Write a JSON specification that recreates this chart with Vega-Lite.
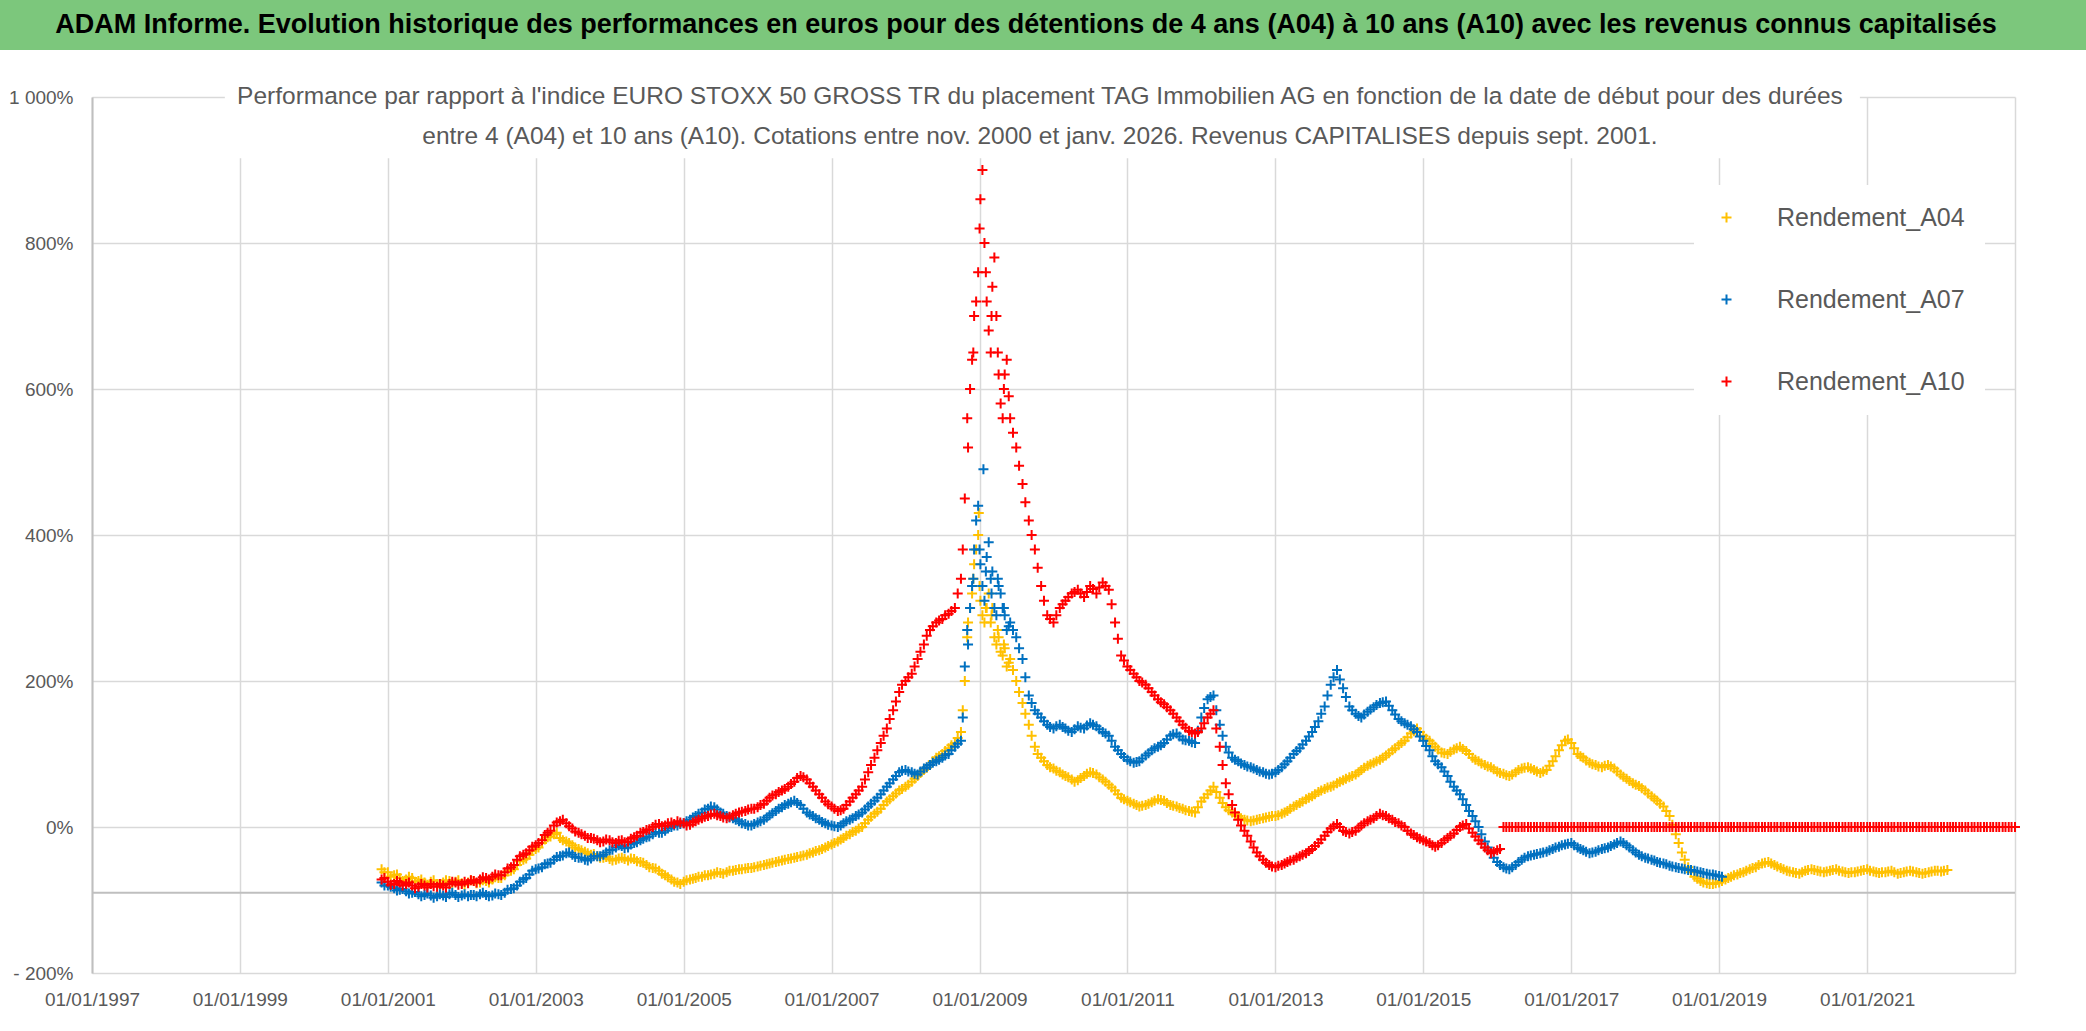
{
  "$schema": "https://vega.github.io/schema/vega-lite/v6.json",
  "width": 1923,
  "height": 876,
  "autosize": {"type": "none"},
  "padding": {"left": 92, "top": 97, "right": 71, "bottom": 58},
  "background": "white",
  "config": {"view": {"stroke": null}, "font": "Liberation Sans"},
  "datasets": {
    "perf": [
      {"d":"2000-12","A04":-58,"A07":-76,"A10":-72},
      {"d":"2000-12-15","A04":-62,"A07":-80,"A10":-70},
      {"d":"2001-01","A04":-62,"A07":-80,"A10":-75},
      {"d":"2001-01-15","A04":-68,"A07":-82,"A10":-79},
      {"d":"2001-02","A04":-66,"A07":-84,"A10":-78},
      {"d":"2001-02-15","A04":-65,"A07":-87,"A10":-74},
      {"d":"2001-03","A04":-70,"A07":-86,"A10":-76},
      {"d":"2001-03-15","A04":-74,"A07":-85,"A10":-80},
      {"d":"2001-04","A04":-72,"A07":-88,"A10":-78},
      {"d":"2001-04-15","A04":-68,"A07":-91,"A10":-76},
      {"d":"2001-05","A04":-70,"A07":-90,"A10":-80},
      {"d":"2001-05-15","A04":-75,"A07":-89,"A10":-84},
      {"d":"2001-06","A04":-74,"A07":-92,"A10":-82},
      {"d":"2001-06-15","A04":-72,"A07":-95,"A10":-78},
      {"d":"2001-07","A04":-76,"A07":-93,"A10":-80},
      {"d":"2001-07-15","A04":-79,"A07":-91,"A10":-83},
      {"d":"2001-08","A04":-75,"A07":-94,"A10":-78},
      {"d":"2001-08-15","A04":-73,"A07":-97,"A10":-81},
      {"d":"2001-09","A04":-78,"A07":-95,"A10":-82},
      {"d":"2001-09-15","A04":-80,"A07":-92,"A10":-78},
      {"d":"2001-10","A04":-76,"A07":-94,"A10":-80},
      {"d":"2001-10-15","A04":-73,"A07":-96,"A10":-83},
      {"d":"2001-11","A04":-74,"A07":-92,"A10":-78},
      {"d":"2001-11-15","A04":-77,"A07":-90,"A10":-75},
      {"d":"2001-12","A04":-75,"A07":-93,"A10":-76},
      {"d":"2001-12-15","A04":-73,"A07":-96,"A10":-79},
      {"d":"2002-01","A04":-77,"A07":-94,"A10":-78},
      {"d":"2002-01-15","A04":-79,"A07":-92,"A10":-75},
      {"d":"2002-02","A04":-76,"A07":-95,"A10":-77},
      {"d":"2002-02-15","A04":-73,"A07":-93,"A10":-73},
      {"d":"2002-03","A04":-74,"A07":-93,"A10":-74},
      {"d":"2002-03-15","A04":-77,"A07":-95,"A10":-76},
      {"d":"2002-04","A04":-76,"A07":-92,"A10":-72},
      {"d":"2002-04-15","A04":-73,"A07":-90,"A10":-69},
      {"d":"2002-05","A04":-74,"A07":-93,"A10":-70},
      {"d":"2002-05-15","A04":-76,"A07":-95,"A10":-72},
      {"d":"2002-06","A04":-72,"A07":-94,"A10":-68},
      {"d":"2002-06-15","A04":-69,"A07":-91,"A10":-65},
      {"d":"2002-07","A04":-70,"A07":-92,"A10":-66},
      {"d":"2002-07-15","A04":-70,"A07":-93,"A10":-66},
      {"d":"2002-08","A04":-66,"A07":-90,"A10":-62},
      {"d":"2002-08-15","A04":-61,"A07":-86,"A10":-57},
      {"d":"2002-09","A04":-60,"A07":-85,"A10":-55},
      {"d":"2002-09-15","A04":-58,"A07":-84,"A10":-52},
      {"d":"2002-10","A04":-52,"A07":-80,"A10":-45},
      {"d":"2002-10-15","A04":-47,"A07":-75,"A10":-40},
      {"d":"2002-11","A04":-45,"A07":-72,"A10":-38},
      {"d":"2002-11-15","A04":-43,"A07":-70,"A10":-36},
      {"d":"2002-12","A04":-38,"A07":-65,"A10":-32},
      {"d":"2002-12-15","A04":-33,"A07":-60,"A10":-27},
      {"d":"2003-01","A04":-30,"A07":-58,"A10":-25},
      {"d":"2003-01-15","A04":-28,"A07":-57,"A10":-22},
      {"d":"2003-02","A04":-22,"A07":-55,"A10":-18},
      {"d":"2003-02-15","A04":-17,"A07":-51,"A10":-11},
      {"d":"2003-03","A04":-14,"A07":-50,"A10":-8},
      {"d":"2003-03-15","A04":-13,"A07":-49,"A10":-5},
      {"d":"2003-04","A04":-10,"A07":-45,"A10":2},
      {"d":"2003-04-15","A04":-8,"A07":-41,"A10":6},
      {"d":"2003-05","A04":-15,"A07":-40,"A10":8},
      {"d":"2003-05-15","A04":-18,"A07":-39,"A10":10},
      {"d":"2003-06","A04":-20,"A07":-36,"A10":5},
      {"d":"2003-06-15","A04":-22,"A07":-35,"A10":1},
      {"d":"2003-07","A04":-25,"A07":-38,"A10":-2},
      {"d":"2003-07-15","A04":-28,"A07":-41,"A10":-6},
      {"d":"2003-08","A04":-30,"A07":-42,"A10":-8},
      {"d":"2003-08-15","A04":-32,"A07":-42,"A10":-10},
      {"d":"2003-09","A04":-34,"A07":-45,"A10":-12},
      {"d":"2003-09-15","A04":-36,"A07":-46,"A10":-15},
      {"d":"2003-10","A04":-38,"A07":-43,"A10":-15},
      {"d":"2003-10-15","A04":-37,"A07":-40,"A10":-16},
      {"d":"2003-11","A04":-40,"A07":-40,"A10":-18},
      {"d":"2003-11-15","A04":-42,"A07":-40,"A10":-21},
      {"d":"2003-12","A04":-42,"A07":-38,"A10":-20},
      {"d":"2003-12-15","A04":-41,"A07":-35,"A10":-17},
      {"d":"2004-01","A04":-44,"A07":-32,"A10":-18},
      {"d":"2004-01-15","A04":-46,"A07":-31,"A10":-21},
      {"d":"2004-02","A04":-45,"A07":-28,"A10":-22},
      {"d":"2004-02-15","A04":-43,"A07":-25,"A10":-19},
      {"d":"2004-03","A04":-42,"A07":-26,"A10":-18},
      {"d":"2004-03-15","A04":-44,"A07":-29,"A10":-21},
      {"d":"2004-04","A04":-46,"A07":-28,"A10":-20},
      {"d":"2004-04-15","A04":-43,"A07":-24,"A10":-16},
      {"d":"2004-05","A04":-44,"A07":-22,"A10":-14},
      {"d":"2004-05-15","A04":-47,"A07":-21,"A10":-12},
      {"d":"2004-06","A04":-48,"A07":-18,"A10":-8},
      {"d":"2004-06-15","A04":-49,"A07":-16,"A10":-7},
      {"d":"2004-07","A04":-52,"A07":-14,"A10":-4},
      {"d":"2004-07-15","A04":-55,"A07":-13,"A10":-3},
      {"d":"2004-08","A04":-56,"A07":-10,"A10":0},
      {"d":"2004-08-15","A04":-57,"A07":-7,"A10":3},
      {"d":"2004-09","A04":-60,"A07":-8,"A10":4},
      {"d":"2004-09-15","A04":-64,"A07":-8,"A10":1},
      {"d":"2004-10","A04":-66,"A07":-5,"A10":2},
      {"d":"2004-10-15","A04":-69,"A07":-2,"A10":5},
      {"d":"2004-11","A04":-72,"A07":0,"A10":6},
      {"d":"2004-11-15","A04":-75,"A07":2,"A10":4},
      {"d":"2004-12","A04":-76,"A07":2,"A10":8},
      {"d":"2004-12-15","A04":-78,"A07":4,"A10":6},
      {"d":"2005-01","A04":-75,"A07":5,"A10":5},
      {"d":"2005-01-15","A04":-73,"A07":8,"A10":2},
      {"d":"2005-02","A04":-72,"A07":10,"A10":3},
      {"d":"2005-02-15","A04":-71,"A07":13,"A10":6},
      {"d":"2005-03","A04":-70,"A07":15,"A10":8},
      {"d":"2005-03-15","A04":-68,"A07":18,"A10":10},
      {"d":"2005-04","A04":-68,"A07":20,"A10":12},
      {"d":"2005-04-15","A04":-66,"A07":24,"A10":14},
      {"d":"2005-05","A04":-66,"A07":25,"A10":15},
      {"d":"2005-05-15","A04":-65,"A07":28,"A10":17},
      {"d":"2005-06","A04":-64,"A07":27,"A10":18},
      {"d":"2005-06-15","A04":-62,"A07":24,"A10":16},
      {"d":"2005-07","A04":-63,"A07":20,"A10":15},
      {"d":"2005-07-15","A04":-64,"A07":18,"A10":13},
      {"d":"2005-08","A04":-62,"A07":15,"A10":12},
      {"d":"2005-08-15","A04":-60,"A07":13,"A10":14},
      {"d":"2005-09","A04":-60,"A07":12,"A10":16},
      {"d":"2005-09-15","A04":-59,"A07":10,"A10":18},
      {"d":"2005-10","A04":-58,"A07":8,"A10":20},
      {"d":"2005-10-15","A04":-58,"A07":5,"A10":21},
      {"d":"2005-11","A04":-57,"A07":4,"A10":22},
      {"d":"2005-11-15","A04":-56,"A07":2,"A10":24},
      {"d":"2005-12","A04":-56,"A07":2,"A10":25},
      {"d":"2005-12-15","A04":-55,"A07":4,"A10":25},
      {"d":"2006-01","A04":-54,"A07":6,"A10":27},
      {"d":"2006-01-15","A04":-53,"A07":8,"A10":30},
      {"d":"2006-02","A04":-52,"A07":10,"A10":32},
      {"d":"2006-02-15","A04":-51,"A07":13,"A10":36},
      {"d":"2006-03","A04":-50,"A07":16,"A10":40},
      {"d":"2006-03-15","A04":-49,"A07":19,"A10":43},
      {"d":"2006-04","A04":-48,"A07":22,"A10":45},
      {"d":"2006-04-15","A04":-47,"A07":25,"A10":48},
      {"d":"2006-05","A04":-46,"A07":27,"A10":50},
      {"d":"2006-05-15","A04":-45,"A07":30,"A10":52},
      {"d":"2006-06","A04":-44,"A07":32,"A10":55},
      {"d":"2006-06-15","A04":-43,"A07":34,"A10":59},
      {"d":"2006-07","A04":-42,"A07":36,"A10":62},
      {"d":"2006-07-15","A04":-41,"A07":33,"A10":67},
      {"d":"2006-08","A04":-40,"A07":30,"A10":70},
      {"d":"2006-08-15","A04":-39,"A07":25,"A10":68},
      {"d":"2006-09","A04":-38,"A07":20,"A10":65},
      {"d":"2006-09-15","A04":-36,"A07":17,"A10":60},
      {"d":"2006-10","A04":-35,"A07":15,"A10":55},
      {"d":"2006-10-15","A04":-33,"A07":12,"A10":50},
      {"d":"2006-11","A04":-32,"A07":10,"A10":45},
      {"d":"2006-11-15","A04":-30,"A07":7,"A10":40},
      {"d":"2006-12","A04":-28,"A07":5,"A10":35},
      {"d":"2006-12-15","A04":-26,"A07":3,"A10":31},
      {"d":"2007-01","A04":-24,"A07":2,"A10":28},
      {"d":"2007-01-15","A04":-22,"A07":1,"A10":25},
      {"d":"2007-02","A04":-20,"A07":0,"A10":22},
      {"d":"2007-02-15","A04":-17,"A07":2,"A10":23},
      {"d":"2007-03","A04":-15,"A07":5,"A10":25},
      {"d":"2007-03-15","A04":-12,"A07":8,"A10":30},
      {"d":"2007-04","A04":-10,"A07":10,"A10":35},
      {"d":"2007-04-15","A04":-7,"A07":12,"A10":40},
      {"d":"2007-05","A04":-5,"A07":15,"A10":45},
      {"d":"2007-05-15","A04":-2,"A07":17,"A10":50},
      {"d":"2007-06","A04":0,"A07":20,"A10":55},
      {"d":"2007-06-15","A04":5,"A07":24,"A10":65},
      {"d":"2007-07","A04":10,"A07":28,"A10":75},
      {"d":"2007-07-15","A04":14,"A07":32,"A10":85},
      {"d":"2007-08","A04":18,"A07":36,"A10":95},
      {"d":"2007-08-15","A04":21,"A07":40,"A10":105},
      {"d":"2007-09","A04":25,"A07":45,"A10":115},
      {"d":"2007-09-15","A04":30,"A07":50,"A10":125},
      {"d":"2007-10","A04":35,"A07":55,"A10":135},
      {"d":"2007-10-15","A04":38,"A07":60,"A10":148},
      {"d":"2007-11","A04":42,"A07":65,"A10":160},
      {"d":"2007-11-15","A04":46,"A07":70,"A10":172},
      {"d":"2007-12","A04":50,"A07":75,"A10":185},
      {"d":"2007-12-15","A04":52,"A07":77,"A10":195},
      {"d":"2008-01","A04":55,"A07":78,"A10":200},
      {"d":"2008-01-15","A04":58,"A07":76,"A10":205},
      {"d":"2008-02","A04":62,"A07":75,"A10":210},
      {"d":"2008-02-15","A04":66,"A07":73,"A10":220},
      {"d":"2008-03","A04":70,"A07":72,"A10":230},
      {"d":"2008-03-15","A04":74,"A07":76,"A10":240},
      {"d":"2008-04","A04":78,"A07":80,"A10":250},
      {"d":"2008-04-15","A04":81,"A07":82,"A10":262},
      {"d":"2008-05","A04":85,"A07":85,"A10":270},
      {"d":"2008-05-15","A04":90,"A07":88,"A10":275},
      {"d":"2008-06","A04":95,"A07":90,"A10":280},
      {"d":"2008-06-15","A04":97,"A07":92,"A10":283},
      {"d":"2008-07","A04":100,"A07":95,"A10":285},
      {"d":"2008-07-15","A04":104,"A07":98,"A10":290},
      {"d":"2008-08","A04":108,"A07":100,"A10":292},
      {"d":"2008-08-15","A04":112,"A07":105,"A10":296},
      {"d":"2008-09","A04":115,"A07":110,"A10":300},
      {"d":"2008-09-15","A04":122,"A07":114,"A10":320},
      {"d":"2008-10","A04":130,"A07":118,"A10":340},
      {"d":"2008-10-10","A04":160,"A07":150,"A10":380},
      {"d":"2008-10-20","A04":200,"A07":220,"A10":450},
      {"d":"2008-11","A04":260,"A07":270,"A10":560},
      {"d":"2008-11-05","A04":280,"A07":250,"A10":520},
      {"d":"2008-11-15","A04":300,"A07":300,"A10":600},
      {"d":"2008-11-25","A04":320,"A07":330,"A10":640},
      {"d":"2008-12","A04":340,"A07":340,"A10":650},
      {"d":"2008-12-05","A04":360,"A07":380,"A10":700},
      {"d":"2008-12-15","A04":380,"A07":420,"A10":720},
      {"d":"2008-12-25","A04":400,"A07":440,"A10":760},
      {"d":"2008-12-28","A04":430},
      {"d":"2009-01","A04":330,"A07":380,"A10":820},
      {"d":"2009-01-05","A04":310,"A07":360,"A10":860},
      {"d":"2009-01-15","A04":290,"A07":330,"A10":900},
      {"d":"2009-01-20","A07":490},
      {"d":"2009-01-25","A04":280,"A07":310,"A10":800},
      {"d":"2009-02","A04":300,"A07":350,"A10":760},
      {"d":"2009-02-05","A04":300,"A07":370,"A10":720},
      {"d":"2009-02-15","A04":320,"A07":390,"A10":680},
      {"d":"2009-02-25","A04":280,"A07":340,"A10":650},
      {"d":"2009-03","A04":290,"A07":320,"A10":700},
      {"d":"2009-03-05","A04":300,"A07":350,"A10":740},
      {"d":"2009-03-15","A04":260,"A07":300,"A10":780},
      {"d":"2009-03-25","A04":250,"A07":290,"A10":700},
      {"d":"2009-04","A04":270,"A07":340,"A10":650},
      {"d":"2009-04-05","A04":260,"A07":330,"A10":620},
      {"d":"2009-04-15","A04":240,"A07":320,"A10":580},
      {"d":"2009-04-25","A04":235,"A07":300,"A10":560},
      {"d":"2009-05","A04":250,"A07":300,"A10":600},
      {"d":"2009-05-05","A04":245,"A07":290,"A10":620},
      {"d":"2009-05-15","A04":220,"A07":270,"A10":640},
      {"d":"2009-05-25","A04":225,"A07":275,"A10":590},
      {"d":"2009-06","A04":230,"A07":280,"A10":560},
      {"d":"2009-06-15","A04":215,"A07":270,"A10":540},
      {"d":"2009-07","A04":200,"A07":260,"A10":520},
      {"d":"2009-07-15","A04":185,"A07":245,"A10":495},
      {"d":"2009-08","A04":170,"A07":230,"A10":470},
      {"d":"2009-08-15","A04":155,"A07":205,"A10":445},
      {"d":"2009-09","A04":140,"A07":180,"A10":420},
      {"d":"2009-09-15","A04":125,"A07":170,"A10":400},
      {"d":"2009-10","A04":110,"A07":160,"A10":380},
      {"d":"2009-10-15","A04":100,"A07":155,"A10":355},
      {"d":"2009-11","A04":95,"A07":150,"A10":330},
      {"d":"2009-11-15","A04":90,"A07":145,"A10":310},
      {"d":"2009-12","A04":85,"A07":140,"A10":290},
      {"d":"2009-12-15","A04":82,"A07":137,"A10":285},
      {"d":"2010-01","A04":80,"A07":135,"A10":280},
      {"d":"2010-01-15","A04":77,"A07":138,"A10":290},
      {"d":"2010-02","A04":75,"A07":140,"A10":300},
      {"d":"2010-02-15","A04":72,"A07":137,"A10":305},
      {"d":"2010-03","A04":70,"A07":135,"A10":310},
      {"d":"2010-03-15","A04":68,"A07":132,"A10":315},
      {"d":"2010-04","A04":65,"A07":130,"A10":320},
      {"d":"2010-04-15","A04":62,"A07":134,"A10":322},
      {"d":"2010-05","A04":64,"A07":138,"A10":325},
      {"d":"2010-05-15","A04":67,"A07":136,"A10":320},
      {"d":"2010-06","A04":70,"A07":135,"A10":315},
      {"d":"2010-06-15","A04":73,"A07":139,"A10":322},
      {"d":"2010-07","A04":75,"A07":142,"A10":330},
      {"d":"2010-07-15","A04":74,"A07":140,"A10":326},
      {"d":"2010-08","A04":72,"A07":138,"A10":320},
      {"d":"2010-08-15","A04":68,"A07":134,"A10":328},
      {"d":"2010-09","A04":65,"A07":130,"A10":335},
      {"d":"2010-09-15","A04":62,"A07":128,"A10":330},
      {"d":"2010-10","A04":58,"A07":125,"A10":325},
      {"d":"2010-10-15","A04":54,"A07":118,"A10":305},
      {"d":"2010-11","A04":50,"A07":110,"A10":280},
      {"d":"2010-11-15","A04":45,"A07":105,"A10":258},
      {"d":"2010-12","A04":40,"A07":100,"A10":235},
      {"d":"2010-12-15","A04":38,"A07":96,"A10":228},
      {"d":"2011-01","A04":36,"A07":92,"A10":220},
      {"d":"2011-01-15","A04":34,"A07":90,"A10":215},
      {"d":"2011-02","A04":32,"A07":88,"A10":210},
      {"d":"2011-02-15","A04":30,"A07":89,"A10":205},
      {"d":"2011-03","A04":28,"A07":90,"A10":200},
      {"d":"2011-03-15","A04":29,"A07":94,"A10":198},
      {"d":"2011-04","A04":30,"A07":98,"A10":195},
      {"d":"2011-04-15","A04":32,"A07":101,"A10":190},
      {"d":"2011-05","A04":34,"A07":105,"A10":185},
      {"d":"2011-05-15","A04":36,"A07":108,"A10":180},
      {"d":"2011-06","A04":38,"A07":110,"A10":175},
      {"d":"2011-06-15","A04":37,"A07":112,"A10":171},
      {"d":"2011-07","A04":36,"A07":115,"A10":168},
      {"d":"2011-07-15","A04":33,"A07":120,"A10":164},
      {"d":"2011-08","A04":30,"A07":125,"A10":160},
      {"d":"2011-08-15","A04":29,"A07":127,"A10":155},
      {"d":"2011-09","A04":28,"A07":128,"A10":150},
      {"d":"2011-09-15","A04":26,"A07":124,"A10":145},
      {"d":"2011-10","A04":25,"A07":120,"A10":140},
      {"d":"2011-10-15","A04":23,"A07":119,"A10":136},
      {"d":"2011-11","A04":22,"A07":118,"A10":132},
      {"d":"2011-11-15","A04":21,"A07":116,"A10":130},
      {"d":"2011-12","A04":20,"A07":115,"A10":128},
      {"d":"2011-12-15","A04":27,"A07":132,"A10":130},
      {"d":"2012-01","A04":35,"A07":150,"A10":135},
      {"d":"2012-01-15","A04":40,"A07":163,"A10":142},
      {"d":"2012-02","A04":45,"A07":175,"A10":150},
      {"d":"2012-02-15","A04":50,"A07":178,"A10":155},
      {"d":"2012-03","A04":55,"A07":180,"A10":160},
      {"d":"2012-03-15","A04":48,"A07":160,"A10":135},
      {"d":"2012-04","A04":40,"A07":140,"A10":110},
      {"d":"2012-04-15","A04":33,"A07":125,"A10":85},
      {"d":"2012-05","A04":27,"A07":110,"A10":60},
      {"d":"2012-05-15","A04":23,"A07":102,"A10":45},
      {"d":"2012-06","A04":20,"A07":95,"A10":30},
      {"d":"2012-06-15","A04":17,"A07":92,"A10":20},
      {"d":"2012-07","A04":15,"A07":90,"A10":10},
      {"d":"2012-07-15","A04":12,"A07":87,"A10":2},
      {"d":"2012-08","A04":10,"A07":85,"A10":-5},
      {"d":"2012-08-15","A04":9,"A07":83,"A10":-12},
      {"d":"2012-09","A04":8,"A07":82,"A10":-20},
      {"d":"2012-09-15","A04":9,"A07":80,"A10":-28},
      {"d":"2012-10","A04":10,"A07":78,"A10":-35},
      {"d":"2012-10-15","A04":11,"A07":76,"A10":-40},
      {"d":"2012-11","A04":12,"A07":75,"A10":-45},
      {"d":"2012-11-15","A04":13,"A07":73,"A10":-49},
      {"d":"2012-12","A04":14,"A07":72,"A10":-52},
      {"d":"2012-12-15","A04":15,"A07":73,"A10":-54},
      {"d":"2013-01","A04":15,"A07":75,"A10":-55},
      {"d":"2013-01-15","A04":16,"A07":78,"A10":-53},
      {"d":"2013-02","A04":18,"A07":82,"A10":-52},
      {"d":"2013-02-15","A04":20,"A07":86,"A10":-50},
      {"d":"2013-03","A04":22,"A07":90,"A10":-48},
      {"d":"2013-03-15","A04":25,"A07":95,"A10":-46},
      {"d":"2013-04","A04":28,"A07":100,"A10":-45},
      {"d":"2013-04-15","A04":30,"A07":104,"A10":-42},
      {"d":"2013-05","A04":33,"A07":108,"A10":-40},
      {"d":"2013-05-15","A04":35,"A07":113,"A10":-38},
      {"d":"2013-06","A04":38,"A07":118,"A10":-36},
      {"d":"2013-06-15","A04":40,"A07":124,"A10":-33},
      {"d":"2013-07","A04":42,"A07":130,"A10":-30},
      {"d":"2013-07-15","A04":45,"A07":137,"A10":-26},
      {"d":"2013-08","A04":48,"A07":145,"A10":-22},
      {"d":"2013-08-15","A04":50,"A07":155,"A10":-17},
      {"d":"2013-09","A04":52,"A07":165,"A10":-12},
      {"d":"2013-09-15","A04":54,"A07":180,"A10":-7},
      {"d":"2013-10","A04":55,"A07":195,"A10":-2},
      {"d":"2013-10-15","A04":57,"A07":205,"A10":1},
      {"d":"2013-11","A04":60,"A07":215,"A10":4},
      {"d":"2013-11-15","A04":62,"A07":202,"A10":0},
      {"d":"2013-12","A04":64,"A07":190,"A10":-5},
      {"d":"2013-12-15","A04":66,"A07":178,"A10":-7},
      {"d":"2014-01","A04":68,"A07":165,"A10":-9},
      {"d":"2014-01-15","A04":70,"A07":160,"A10":-7},
      {"d":"2014-02","A04":72,"A07":155,"A10":-5},
      {"d":"2014-02-15","A04":75,"A07":152,"A10":-1},
      {"d":"2014-03","A04":78,"A07":150,"A10":2},
      {"d":"2014-03-15","A04":81,"A07":154,"A10":5},
      {"d":"2014-04","A04":84,"A07":158,"A10":8},
      {"d":"2014-04-15","A04":86,"A07":161,"A10":10},
      {"d":"2014-05","A04":88,"A07":164,"A10":12},
      {"d":"2014-05-15","A04":90,"A07":167,"A10":15},
      {"d":"2014-06","A04":92,"A07":170,"A10":18},
      {"d":"2014-06-15","A04":95,"A07":171,"A10":16},
      {"d":"2014-07","A04":98,"A07":172,"A10":15},
      {"d":"2014-07-15","A04":101,"A07":166,"A10":12},
      {"d":"2014-08","A04":105,"A07":160,"A10":10},
      {"d":"2014-08-15","A04":108,"A07":154,"A10":7},
      {"d":"2014-09","A04":112,"A07":148,"A10":5},
      {"d":"2014-09-15","A04":115,"A07":145,"A10":2},
      {"d":"2014-10","A04":118,"A07":142,"A10":0},
      {"d":"2014-10-15","A04":123,"A07":140,"A10":-5},
      {"d":"2014-11","A04":128,"A07":138,"A10":-9},
      {"d":"2014-11-15","A04":131,"A07":134,"A10":-11},
      {"d":"2014-12","A04":135,"A07":130,"A10":-14},
      {"d":"2014-12-15","A04":130,"A07":124,"A10":-16},
      {"d":"2015-01","A04":125,"A07":118,"A10":-18},
      {"d":"2015-01-15","A04":121,"A07":111,"A10":-20},
      {"d":"2015-02","A04":118,"A07":105,"A10":-22},
      {"d":"2015-02-15","A04":114,"A07":97,"A10":-25},
      {"d":"2015-03","A04":110,"A07":90,"A10":-27},
      {"d":"2015-03-15","A04":106,"A07":86,"A10":-25},
      {"d":"2015-04","A04":102,"A07":82,"A10":-22},
      {"d":"2015-04-15","A04":101,"A07":76,"A10":-18},
      {"d":"2015-05","A04":100,"A07":70,"A10":-15},
      {"d":"2015-05-15","A04":103,"A07":62,"A10":-12},
      {"d":"2015-06","A04":106,"A07":55,"A10":-9},
      {"d":"2015-06-15","A04":108,"A07":50,"A10":-4},
      {"d":"2015-07","A04":110,"A07":45,"A10":0},
      {"d":"2015-07-15","A04":107,"A07":38,"A10":2},
      {"d":"2015-08","A04":104,"A07":30,"A10":4},
      {"d":"2015-08-15","A04":100,"A07":22,"A10":-2},
      {"d":"2015-09","A04":95,"A07":15,"A10":-8},
      {"d":"2015-09-15","A04":92,"A07":8,"A10":-13},
      {"d":"2015-10","A04":90,"A07":0,"A10":-18},
      {"d":"2015-10-15","A04":87,"A07":-10,"A10":-23},
      {"d":"2015-11","A04":85,"A07":-20,"A10":-28},
      {"d":"2015-11-15","A04":83,"A07":-28,"A10":-32},
      {"d":"2015-12","A04":82,"A07":-35,"A10":-36},
      {"d":"2015-12-15","A04":79,"A07":-42,"A10":-34},
      {"d":"2016-01","A04":76,"A07":-48,"A10":-32},
      {"d":"2016-01-15","A04":74,"A07":-52,"A10":-30},
      {"d":"2016-02","A04":73,"A07":-55,"A10":0},
      {"d":"2016-02-15","A04":71,"A07":-57,"A10":0},
      {"d":"2016-03","A04":70,"A07":-58,"A10":0},
      {"d":"2016-03-15","A04":72,"A07":-55,"A10":0},
      {"d":"2016-04","A04":75,"A07":-52,"A10":0},
      {"d":"2016-04-15","A04":78,"A07":-48,"A10":0},
      {"d":"2016-05","A04":80,"A07":-45,"A10":0},
      {"d":"2016-05-15","A04":81,"A07":-42,"A10":0},
      {"d":"2016-06","A04":82,"A07":-40,"A10":0},
      {"d":"2016-06-15","A04":80,"A07":-39,"A10":0},
      {"d":"2016-07","A04":78,"A07":-38,"A10":0},
      {"d":"2016-07-15","A04":76,"A07":-37,"A10":0},
      {"d":"2016-08","A04":74,"A07":-36,"A10":0},
      {"d":"2016-08-15","A04":76,"A07":-35,"A10":0},
      {"d":"2016-09","A04":78,"A07":-34,"A10":0},
      {"d":"2016-09-15","A04":84,"A07":-32,"A10":0},
      {"d":"2016-10","A04":90,"A07":-30,"A10":0},
      {"d":"2016-10-15","A04":97,"A07":-28,"A10":0},
      {"d":"2016-11","A04":105,"A07":-27,"A10":0},
      {"d":"2016-11-15","A04":112,"A07":-25,"A10":0},
      {"d":"2016-12","A04":118,"A07":-24,"A10":0},
      {"d":"2016-12-15","A04":120,"A07":-23,"A10":0},
      {"d":"2017-01","A04":115,"A07":-22,"A10":0},
      {"d":"2017-01-15","A04":108,"A07":-25,"A10":0},
      {"d":"2017-02","A04":100,"A07":-28,"A10":0},
      {"d":"2017-02-15","A04":97,"A07":-30,"A10":0},
      {"d":"2017-03","A04":95,"A07":-32,"A10":0},
      {"d":"2017-03-15","A04":91,"A07":-34,"A10":0},
      {"d":"2017-04","A04":88,"A07":-36,"A10":0},
      {"d":"2017-04-15","A04":86,"A07":-35,"A10":0},
      {"d":"2017-05","A04":85,"A07":-34,"A10":0},
      {"d":"2017-05-15","A04":83,"A07":-32,"A10":0},
      {"d":"2017-06","A04":82,"A07":-30,"A10":0},
      {"d":"2017-06-15","A04":84,"A07":-29,"A10":0},
      {"d":"2017-07","A04":85,"A07":-28,"A10":0},
      {"d":"2017-07-15","A04":83,"A07":-26,"A10":0},
      {"d":"2017-08","A04":80,"A07":-24,"A10":0},
      {"d":"2017-08-15","A04":76,"A07":-22,"A10":0},
      {"d":"2017-09","A04":72,"A07":-20,"A10":0},
      {"d":"2017-09-15","A04":69,"A07":-22,"A10":0},
      {"d":"2017-10","A04":66,"A07":-25,"A10":0},
      {"d":"2017-10-15","A04":63,"A07":-28,"A10":0},
      {"d":"2017-11","A04":60,"A07":-32,"A10":0},
      {"d":"2017-11-15","A04":58,"A07":-35,"A10":0},
      {"d":"2017-12","A04":56,"A07":-38,"A10":0},
      {"d":"2017-12-15","A04":53,"A07":-40,"A10":0},
      {"d":"2018-01","A04":50,"A07":-42,"A10":0},
      {"d":"2018-01-15","A04":46,"A07":-43,"A10":0},
      {"d":"2018-02","A04":42,"A07":-45,"A10":0},
      {"d":"2018-02-15","A04":39,"A07":-46,"A10":0},
      {"d":"2018-03","A04":36,"A07":-48,"A10":0},
      {"d":"2018-03-15","A04":32,"A07":-49,"A10":0},
      {"d":"2018-04","A04":28,"A07":-50,"A10":0},
      {"d":"2018-04-15","A04":22,"A07":-51,"A10":0},
      {"d":"2018-05","A04":15,"A07":-53,"A10":0},
      {"d":"2018-05-15","A04":3,"A07":-54,"A10":0},
      {"d":"2018-06","A04":-10,"A07":-55,"A10":0},
      {"d":"2018-06-15","A04":-22,"A07":-56,"A10":0},
      {"d":"2018-07","A04":-35,"A07":-57,"A10":0},
      {"d":"2018-07-15","A04":-45,"A07":-58,"A10":0},
      {"d":"2018-08","A04":-55,"A07":-59,"A10":0},
      {"d":"2018-08-15","A04":-62,"A07":-59,"A10":0},
      {"d":"2018-09","A04":-68,"A07":-60,"A10":0},
      {"d":"2018-09-15","A04":-71,"A07":-61,"A10":0},
      {"d":"2018-10","A04":-74,"A07":-62,"A10":0},
      {"d":"2018-10-15","A04":-76,"A07":-63,"A10":0},
      {"d":"2018-11","A04":-77,"A07":-64,"A10":0},
      {"d":"2018-11-15","A04":-78,"A07":-65,"A10":0},
      {"d":"2018-12","A04":-78,"A07":-65,"A10":0},
      {"d":"2018-12-15","A04":-77,"A07":-66,"A10":0},
      {"d":"2019-01","A04":-76,"A07":-67,"A10":0},
      {"d":"2019-01-15","A04":-74,"A07":-68,"A10":0},
      {"d":"2019-02","A04":-72,"A10":0},
      {"d":"2019-02-15","A04":-70,"A10":0},
      {"d":"2019-03","A04":-68,"A10":0},
      {"d":"2019-03-15","A04":-66,"A10":0},
      {"d":"2019-04","A04":-65,"A10":0},
      {"d":"2019-04-15","A04":-63,"A10":0},
      {"d":"2019-05","A04":-62,"A10":0},
      {"d":"2019-05-15","A04":-60,"A10":0},
      {"d":"2019-06","A04":-58,"A10":0},
      {"d":"2019-06-15","A04":-56,"A10":0},
      {"d":"2019-07","A04":-55,"A10":0},
      {"d":"2019-07-15","A04":-52,"A10":0},
      {"d":"2019-08","A04":-50,"A10":0},
      {"d":"2019-08-15","A04":-49,"A10":0},
      {"d":"2019-09","A04":-48,"A10":0},
      {"d":"2019-09-15","A04":-50,"A10":0},
      {"d":"2019-10","A04":-52,"A10":0},
      {"d":"2019-10-15","A04":-54,"A10":0},
      {"d":"2019-11","A04":-56,"A10":0},
      {"d":"2019-11-15","A04":-58,"A10":0},
      {"d":"2019-12","A04":-60,"A10":0},
      {"d":"2019-12-15","A04":-61,"A10":0},
      {"d":"2020-01","A04":-62,"A10":0},
      {"d":"2020-01-15","A04":-63,"A10":0},
      {"d":"2020-02","A04":-64,"A10":0},
      {"d":"2020-02-15","A04":-62,"A10":0},
      {"d":"2020-03","A04":-60,"A10":0},
      {"d":"2020-03-15","A04":-59,"A10":0},
      {"d":"2020-04","A04":-58,"A10":0},
      {"d":"2020-04-15","A04":-59,"A10":0},
      {"d":"2020-05","A04":-60,"A10":0},
      {"d":"2020-05-15","A04":-61,"A10":0},
      {"d":"2020-06","A04":-62,"A10":0},
      {"d":"2020-06-15","A04":-61,"A10":0},
      {"d":"2020-07","A04":-60,"A10":0},
      {"d":"2020-07-15","A04":-59,"A10":0},
      {"d":"2020-08","A04":-58,"A10":0},
      {"d":"2020-08-15","A04":-60,"A10":0},
      {"d":"2020-09","A04":-61,"A10":0},
      {"d":"2020-09-15","A04":-62,"A10":0},
      {"d":"2020-10","A04":-63,"A10":0},
      {"d":"2020-10-15","A04":-62,"A10":0},
      {"d":"2020-11","A04":-62,"A10":0},
      {"d":"2020-11-15","A04":-61,"A10":0},
      {"d":"2020-12","A04":-60,"A10":0},
      {"d":"2020-12-15","A04":-59,"A10":0},
      {"d":"2021-01","A04":-58,"A10":0},
      {"d":"2021-01-15","A04":-60,"A10":0},
      {"d":"2021-02","A04":-61,"A10":0},
      {"d":"2021-02-15","A04":-62,"A10":0},
      {"d":"2021-03","A04":-63,"A10":0},
      {"d":"2021-03-15","A04":-62,"A10":0},
      {"d":"2021-04","A04":-62,"A10":0},
      {"d":"2021-04-15","A04":-61,"A10":0},
      {"d":"2021-05","A04":-60,"A10":0},
      {"d":"2021-05-15","A04":-62,"A10":0},
      {"d":"2021-06","A04":-64,"A10":0},
      {"d":"2021-06-15","A04":-63,"A10":0},
      {"d":"2021-07","A04":-62,"A10":0},
      {"d":"2021-07-15","A04":-61,"A10":0},
      {"d":"2021-08","A04":-60,"A10":0},
      {"d":"2021-08-15","A04":-61,"A10":0},
      {"d":"2021-09","A04":-62,"A10":0},
      {"d":"2021-09-15","A04":-63,"A10":0},
      {"d":"2021-10","A04":-64,"A10":0},
      {"d":"2021-10-15","A04":-63,"A10":0},
      {"d":"2021-11","A04":-62,"A10":0},
      {"d":"2021-11-15","A04":-61,"A10":0},
      {"d":"2021-12","A04":-60,"A10":0},
      {"d":"2021-12-15","A04":-60,"A10":0},
      {"d":"2022-01","A04":-61,"A10":0},
      {"d":"2022-01-15","A04":-60,"A10":0},
      {"d":"2022-02","A04":-59,"A10":0},
      {"d":"2022-02-15","A10":0},
      {"d":"2022-03","A10":0},
      {"d":"2022-03-15","A10":0},
      {"d":"2022-04","A10":0},
      {"d":"2022-04-15","A10":0},
      {"d":"2022-05","A10":0},
      {"d":"2022-05-15","A10":0},
      {"d":"2022-06","A10":0},
      {"d":"2022-06-15","A10":0},
      {"d":"2022-07","A10":0},
      {"d":"2022-07-15","A10":0},
      {"d":"2022-08","A10":0},
      {"d":"2022-08-15","A10":0},
      {"d":"2022-09","A10":0},
      {"d":"2022-09-15","A10":0},
      {"d":"2022-10","A10":0},
      {"d":"2022-10-15","A10":0},
      {"d":"2022-11","A10":0},
      {"d":"2022-11-15","A10":0},
      {"d":"2022-12","A10":0},
      {"d":"2022-12-15","A10":0},
      {"d":"2023-01","A10":0}
    ]
  },
  "layer": [
    {
      "data": {"values": [{}]},
      "mark": {"type": "rect", "color": "#7cc77c", "clip": false},
      "encoding": {
        "x": {"datum": {"year": 1995, "month": 6, "date": 1}, "type": "temporal"},
        "x2": {"datum": {"year": 2024, "month": 6, "date": 1}},
        "y": {"datum": 1160, "type": "quantitative"},
        "y2": {"datum": 1064.4}
      }
    },
    {
      "data": {"values": [{}]},
      "mark": {"type": "rect", "color": "white", "clip": false},
      "encoding": {
        "x": {"datum": {"year": 1998, "month": 10, "date": 19}, "type": "temporal"},
        "x2": {"datum": {"year": 2020, "month": 11, "date": 26}},
        "y": {"datum": 1023, "type": "quantitative"},
        "y2": {"datum": 916}
      }
    },
    {
      "data": {"values": [{}]},
      "mark": {"type": "rule", "color": "#BFBFBF", "strokeWidth": 2},
      "encoding": {"y": {"datum": -90, "type": "quantitative"}}
    },
    {
      "data": {"name": "perf"},
      "transform": [
        {"fold": ["A04", "A07", "A10"], "as": ["serie", "v"]},
        {"filter": "isValid(datum.v)"}
      ],
      "mark": {"type": "point", "shape": "M-1,0H1M0,-1V1", "filled": false, "strokeWidth": 2, "size": 100, "opacity": 1},
      "encoding": {
        "x": {
          "field": "d", "type": "temporal",
          "scale": {"domain": [{"year": 1997, "month": 1, "date": 1}, {"year": 2023, "month": 1, "date": 1}], "nice": false},
          "axis": {
            "title": null,
            "values": [
              {"year": 1997, "month": 1, "date": 1}, {"year": 1999, "month": 1, "date": 1},
              {"year": 2001, "month": 1, "date": 1}, {"year": 2003, "month": 1, "date": 1},
              {"year": 2005, "month": 1, "date": 1}, {"year": 2007, "month": 1, "date": 1},
              {"year": 2009, "month": 1, "date": 1}, {"year": 2011, "month": 1, "date": 1},
              {"year": 2013, "month": 1, "date": 1}, {"year": 2015, "month": 1, "date": 1},
              {"year": 2017, "month": 1, "date": 1}, {"year": 2019, "month": 1, "date": 1},
              {"year": 2021, "month": 1, "date": 1}, {"year": 2023, "month": 1, "date": 1}
            ],
            "labelExpr": "year(datum.value) >= 2023 ? '' : timeFormat(datum.value, '%d/%m/%Y')",
            "grid": true, "gridColor": "#D9D9D9", "gridWidth": 1.5,
            "domain": false, "ticks": false,
            "labelPadding": 17, "labelFontSize": 19, "labelColor": "#595959",
            "labelFlush": false, "labelOverlap": false
          }
        },
        "y": {
          "field": "v", "type": "quantitative",
          "scale": {"domain": [-200, 1000], "nice": false, "zero": false},
          "axis": {
            "title": null,
            "values": [-200, 0, 200, 400, 600, 800, 1000],
            "labelExpr": "datum.value == 1000 ? '1 000%' : datum.value < 0 ? '- ' + (-datum.value) + '%' : datum.value + '%'",
            "grid": true, "gridColor": "#D9D9D9", "gridWidth": 1.5,
            "domain": true, "domainColor": "#BFBFBF", "domainWidth": 2,
            "ticks": false, "labelPadding": 19, "labelFontSize": 19, "labelColor": "#595959"
          }
        },
        "color": {
          "field": "serie", "type": "nominal",
          "scale": {"domain": ["A04", "A07", "A10"], "range": ["#FFC000", "#0070C0", "#FF0000"]},
          "legend": {
            "title": null, "orient": "none", "legendX": 1602, "legendY": 88,
            "fillColor": "white", "padding": 20,
            "labelExpr": "'Rendement_' + datum.label",
            "symbolType": "M-1,0H1M0,-1V1", "symbolStrokeWidth": 2, "symbolSize": 100,
            "labelFontSize": 25, "labelColor": "#595959", "labelOffset": 38, "labelLimit": 400,
            "rowPadding": 56
          }
        },
        "order": {"field": "serie", "type": "ordinal"}
      }
    },
    {
      "data": {"values": [{}]},
      "mark": {"type": "text", "text": "ADAM Informe. Evolution historique des performances en euros pour des détentions de 4 ans (A04) à 10 ans (A10) avec les revenus connus capitalisés", "font": "Liberation Sans", "fontSize": 27, "fontWeight": "bold", "color": "black", "align": "center", "baseline": "middle", "clip": false},
      "encoding": {
        "x": {"datum": {"year": 2009, "month": 8, "date": 18}, "type": "temporal"},
        "y": {"datum": 1098.6, "type": "quantitative"}
      }
    },
    {
      "data": {"values": [{}]},
      "mark": {"type": "text", "text": "Performance par rapport à l'indice EURO STOXX 50 GROSS TR  du placement TAG Immobilien AG en fonction de la date de début pour des durées", "font": "Liberation Sans", "fontSize": 24.5, "color": "#595959", "align": "center", "baseline": "middle", "clip": false},
      "encoding": {
        "x": {"datum": {"year": 2009, "month": 10, "date": 26}, "type": "temporal"},
        "y": {"datum": 1000, "type": "quantitative"}
      }
    },
    {
      "data": {"values": [{}]},
      "mark": {"type": "text", "text": "entre 4 (A04) et 10 ans (A10). Cotations entre nov. 2000 et janv. 2026. Revenus CAPITALISES depuis sept. 2001.", "font": "Liberation Sans", "fontSize": 24.5, "color": "#595959", "align": "center", "baseline": "middle", "clip": false},
      "encoding": {
        "x": {"datum": {"year": 2009, "month": 10, "date": 26}, "type": "temporal"},
        "y": {"datum": 945.2, "type": "quantitative"}
      }
    }
  ]
}
